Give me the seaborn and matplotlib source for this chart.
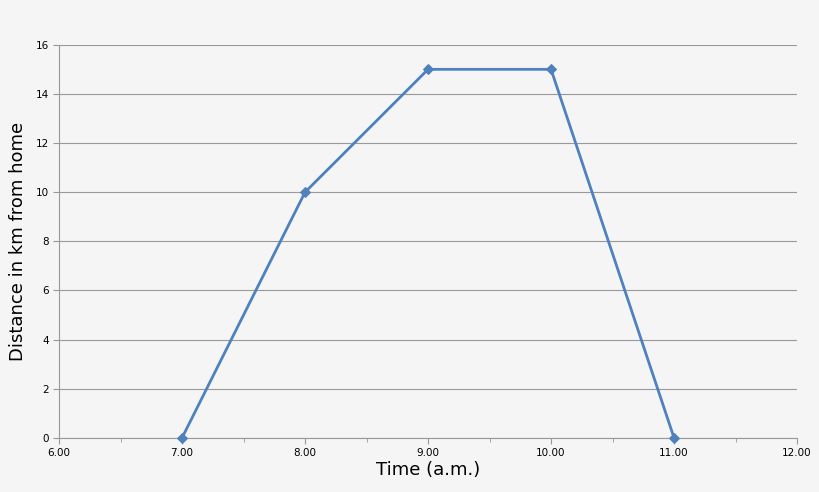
import matplotlib
matplotlib.use("Agg")
import matplotlib.pyplot as plt
import seaborn as sns
import pandas as pd
import numpy as np

time = [7.0, 8.0, 9.0, 10.0, 11.0]
distance = [0, 10, 15, 15, 0]
x_ticks = [6, 7, 8, 9, 10, 11, 12]
y_ticks = [0, 2, 4, 6, 8, 10, 12, 14, 16]

df = pd.DataFrame({"time": time, "distance": distance})

bg = "#f5f5f5"
fig = plt.figure(figsize=(8.2, 4.92), dpi=100, facecolor=bg)
ax = fig.add_axes([0.072, 0.110, 0.900, 0.799])
ax.set_facecolor(bg)

sns.lineplot(data=df, x="time", y="distance", ax=ax, color="#4f81bd",
             linewidth=2, marker="D", markersize=5, markeredgecolor="#4f81bd",
             clip_on=False, zorder=5)

ax.set_xlim(6, 12)
ax.set_ylim(0, 16)
ax.set_xticks(x_ticks)
ax.set_xticklabels([f"{t:.2f}" for t in x_ticks], fontsize=7.5)
ax.set_xticks(np.arange(6.5, 12, 1), minor=True)
ax.set_yticks(y_ticks)
ax.set_yticklabels([str(t) for t in y_ticks], fontsize=7.5)
ax.grid(axis="y", color="#999999", linewidth=0.8)
ax.set_axisbelow(True)
for s in ["top", "right"]:
    ax.spines[s].set_visible(False)
ax.spines["left"].set_color("#999999")
ax.spines["bottom"].set_color("#999999")
ax.tick_params(axis="both", length=4, color="#999999", direction="out")
ax.tick_params(axis="x", which="minor", length=3, color="#999999")

ax.set_xlabel("Time (a.m.)", fontsize=13, labelpad=2)
ax.set_ylabel("Distance in km from home", fontsize=13, labelpad=6)

fig.savefig("out.png", dpi=100, facecolor=bg)
